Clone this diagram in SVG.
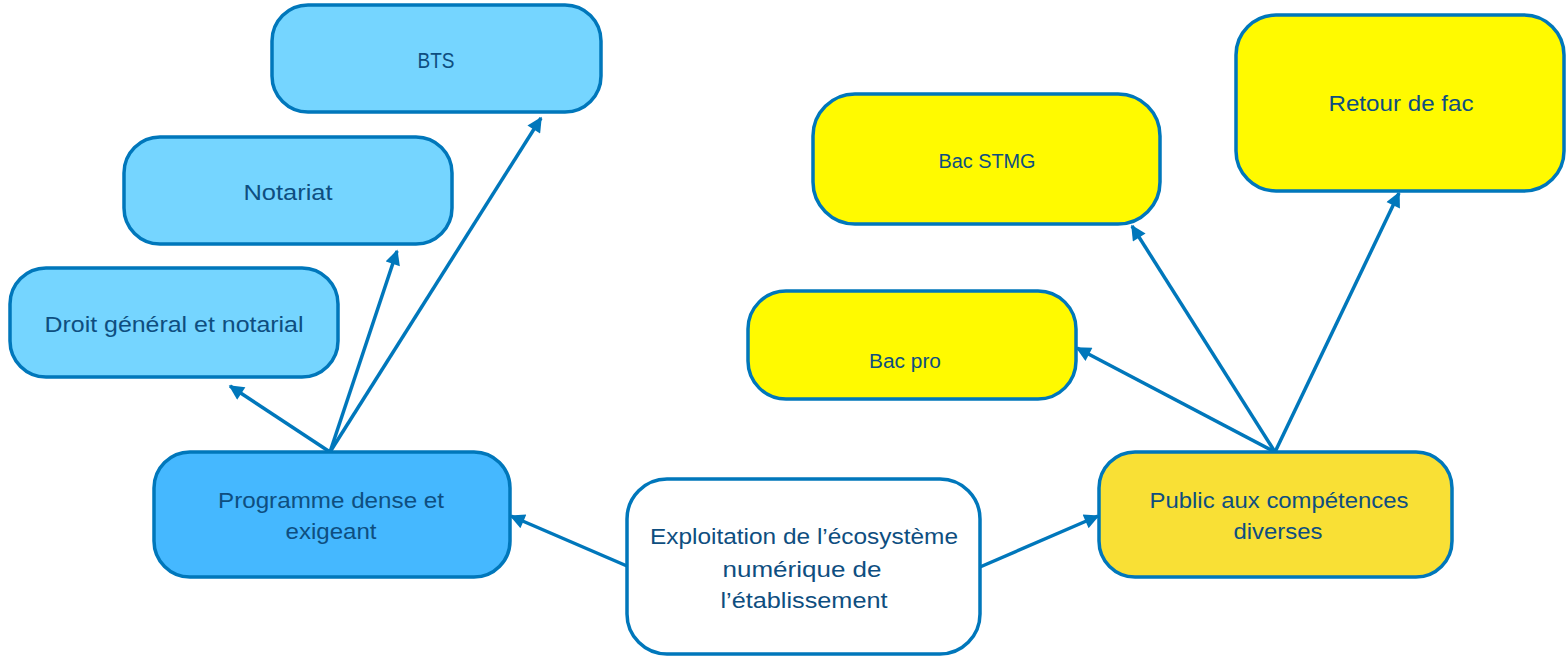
<svg xmlns="http://www.w3.org/2000/svg" width="1566" height="657" viewBox="0 0 1566 657">
<style>
.box{stroke:#0077BB;stroke-width:3.5}
.lb{fill:#75D5FF}
.db{fill:#45B8FF}
.yl{fill:#FFFA00}
.gd{fill:#F9E035}
.wh{fill:#FFFFFF}
.t{font-family:"Liberation Sans","Open Sans",sans-serif;fill:#0E4E80;text-anchor:middle;font-size:22px}
.s{font-size:20px}
.c{stroke:#0077BB;stroke-width:3.5;fill:none;marker-end:url(#ah)}
</style>
<defs>
<marker id="ah" viewBox="0 0 10 10" refX="9" refY="5" markerWidth="17" markerHeight="15" markerUnits="userSpaceOnUse" orient="auto">
<path d="M0,0 L10,5 L0,10 z" fill="#0077BB"/>
</marker>
</defs>
<rect width="1566" height="657" fill="#FFFFFF"/>
<g id="connectors">
<line class="c" x1="330" y1="452" x2="230" y2="386"/>
<line class="c" x1="330" y1="452" x2="397" y2="251"/>
<line class="c" x1="330" y1="452" x2="541" y2="118"/>
<line class="c" x1="627" y1="566" x2="511" y2="516"/>
<line class="c" x1="980" y1="567" x2="1098" y2="516"/>
<line class="c" x1="1275" y1="452" x2="1077" y2="348"/>
<line class="c" x1="1275" y1="452" x2="1132" y2="226"/>
<line class="c" x1="1275" y1="452" x2="1399" y2="193"/>
</g>
<g id="bts">
<rect class="box lb" x="272" y="5" width="329" height="107" rx="36"/>
<text class="t" x="436" y="68" textLength="37" lengthAdjust="spacingAndGlyphs">BTS</text>
</g>
<g id="notariat">
<rect class="box lb" x="124" y="137" width="328" height="107" rx="36"/>
<text class="t" x="288" y="200" textLength="89" lengthAdjust="spacingAndGlyphs">Notariat</text>
</g>
<g id="droit">
<rect class="box lb" x="10" y="268" width="328" height="109" rx="36"/>
<text class="t" x="174" y="332" textLength="259" lengthAdjust="spacingAndGlyphs">Droit général et notarial</text>
</g>
<g id="programme">
<rect class="box db" x="154" y="452" width="356" height="125" rx="36"/>
<text class="t" x="331" y="508" textLength="226" lengthAdjust="spacingAndGlyphs">Programme dense et</text>
<text class="t" x="331" y="539" textLength="91" lengthAdjust="spacingAndGlyphs">exigeant</text>
</g>
<g id="exploitation">
<rect class="box wh" x="627" y="479" width="353" height="175" rx="40"/>
<text class="t" x="804" y="544" textLength="308" lengthAdjust="spacingAndGlyphs">Exploitation de l’écosystème</text>
<text class="t" x="802" y="577" textLength="159" lengthAdjust="spacingAndGlyphs">numérique de</text>
<text class="t" x="804" y="608" textLength="167" lengthAdjust="spacingAndGlyphs">l’établissement</text>
</g>
<g id="public">
<rect class="box gd" x="1099" y="452" width="353" height="125" rx="36"/>
<text class="t" x="1279" y="508" textLength="259" lengthAdjust="spacingAndGlyphs">Public aux compétences</text>
<text class="t" x="1278" y="539" textLength="89" lengthAdjust="spacingAndGlyphs">diverses</text>
</g>
<g id="bacstmg">
<rect class="box yl" x="813" y="94" width="347" height="130" rx="42"/>
<text class="t s" x="987" y="168" textLength="97" lengthAdjust="spacingAndGlyphs">Bac STMG</text>
</g>
<g id="bacpro">
<rect class="box yl" x="748" y="291" width="328" height="108" rx="38"/>
<text class="t s" x="905" y="368" textLength="72" lengthAdjust="spacingAndGlyphs">Bac pro</text>
</g>
<g id="retour">
<rect class="box yl" x="1236" y="15" width="328" height="176" rx="40"/>
<text class="t" x="1401" y="111" textLength="145" lengthAdjust="spacingAndGlyphs">Retour de fac</text>
</g>
</svg>
